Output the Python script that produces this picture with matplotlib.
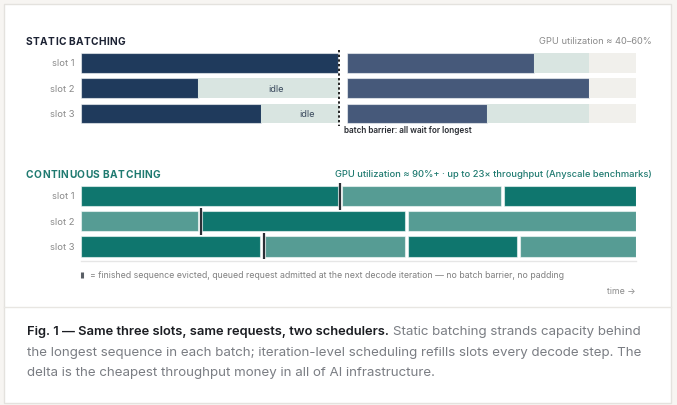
import matplotlib
matplotlib.use("Agg")
import matplotlib.pyplot as plt
from matplotlib.patches import Rectangle

plt.rcParams['font.family'] = ['Inter', 'DejaVu Sans']

W, H = 677, 406
# ---------------- data ----------------
slots = ["slot 1", "slot 2", "slot 3"]
# static batching, time units 0..100
batch1_done = [46.3, 21.1, 32.4]
barrier_t = 46.5
batch2_start = 47.9
batch2_done = [81.6, 91.5, 73.2]
batch2_end = 91.5
timeline_end = 100.0
# continuous batching segments per slot (kind 0 = dark, 1 = light)
cont_starts = [[0, 47.0, 76.2], [0, 21.8, 59.0], [0, 33.1, 59.0, 79.1]]
cont_ends = [[46.3, 75.7, 100], [21.1, 58.4, 100], [32.3, 58.4, 78.6, 100]]
cont_kinds = [[0, 1, 0], [1, 0, 1], [0, 1, 0, 1]]
evict_t = [46.7, 21.6, 33.0]

# ---------------- colours ----------------
c_static = '#1f3a5c'
c_static2 = '#46597a'
c_idle = '#d9e5e1'
c_empty = '#f1f0ec'
c_teal = '#0f766e'
c_teal_l = '#569c94'
c_mark = '#2b2f36'
c_grey = '#8a8a8a'

fig = plt.figure(figsize=(W / 100, H / 100), dpi=100)
fig.patch.set_facecolor('#f7f5f2')

def fx(px):
    return px / W

def fy(py):
    return 1 - py / H

# card
card = fig.add_axes([0, 0, 1, 1])
card.set_xlim(0, W)
card.set_ylim(H, 0)
card.axis('off')
card.add_patch(Rectangle((3.5, 4.5), 667.5, 399, facecolor='white', edgecolor='#e4e2de', lw=1))
card.plot([3.5, 671], [308, 308], color='#e8e6e2', lw=1)

renderer = fig.canvas.get_renderer()

def spaced(x_px, y_px, s, target_w, **kw):
    ts = []
    widths = []
    for ch in s:
        t = fig.text(0, 0, ch if ch != ' ' else 'I', **kw)
        bb = t.get_window_extent(renderer)
        widths.append(bb.width * (0.8 if ch == ' ' else 1.0))
        ts.append((t, ch))
    nat = sum(widths)
    gap = (target_w - nat) / max(len(s) - 1, 1)
    x = x_px
    for (t, ch), w in zip(ts, widths):
        if ch == ' ':
            t.set_visible(False)
        t.set_position((fx(x), fy(y_px)))
        x += w + gap

def bar_axes(top_px, bottom_px):
    ax = fig.add_axes([fx(81), fy(bottom_px), (636 - 81) / W, (bottom_px - top_px) / H])
    ax.set_xlim(0, timeline_end)
    ax.set_ylim(2.5, -0.5)
    ax.axis('off')
    return ax

bh = 0.79
edge = dict(edgecolor=(1, 1, 1, 0.55), linewidth=0.8)

# ---------------- static batching ----------------
spaced(26, 42, "STATIC BATCHING", 99, fontsize=7.3, fontweight='bold', color='#1c2233', va='center', ha='left')
fig.text(fx(652), fy(42), "GPU utilization ≈ 40–60%", fontsize=6.7, color=c_grey, ha='right', va='center')

ax1 = bar_axes(51.4, 127.1)
for i in range(3):
    ax1.barh(i, batch1_done[i], left=0, height=bh, color=c_static, **edge)
    if barrier_t - batch1_done[i] > 2:
        ax1.barh(i, barrier_t - batch1_done[i], left=batch1_done[i], height=bh, color=c_idle, edgecolor='none')
        ax1.text((batch1_done[i] + barrier_t) / 2 + 1.3, i, "idle", fontsize=6.6, color='#3b4a5e',
                 ha='center', va='center')
    ax1.barh(i, batch2_done[i] - batch2_start, left=batch2_start, height=bh, color=c_static2, **edge)
    if batch2_done[i] < batch2_end:
        ax1.barh(i, batch2_end - batch2_done[i], left=batch2_done[i], height=bh, color=c_idle, edgecolor='none')
    ax1.barh(i, timeline_end - batch2_end, left=batch2_end, height=bh, color=c_empty, edgecolor='none')
ax1.plot([barrier_t, barrier_t], [-0.5, 2.5], color='#222222', lw=1.4, ls=(0, (1.2, 1.2)), clip_on=False)
ax1.text(barrier_t + 0.9, 2.62, "batch barrier: all wait for longest", fontsize=5.9, fontweight='semibold',
         color='#2a2d33', ha='left', va='center')
for i, s in enumerate(slots):
    fig.text(fx(74), fy(64 + 25.25 * i), s, fontsize=6.8, color=c_grey, ha='right', va='center')

# ---------------- continuous batching ----------------
spaced(26, 175, "CONTINUOUS BATCHING", 134, fontsize=7.3, fontweight='bold', color='#1f7a70', va='center', ha='left')
fig.text(fx(652), fy(175), "GPU utilization ≈ 90%+ · up to 23× throughput (Anyscale benchmarks)",
         fontsize=6.75, fontweight='medium', color='#1f7a70', ha='right', va='center')

ax2 = bar_axes(184.4, 260.1)
for i in range(3):
    for s0, s1, k in zip(cont_starts[i], cont_ends[i], cont_kinds[i]):
        ax2.barh(i, s1 - s0, left=s0, height=0.81, color=c_teal if k == 0 else c_teal_l, **edge)
    ax2.plot([evict_t[i], evict_t[i]], [i - 0.53, i + 0.56], color=c_mark, lw=1.6, solid_capstyle='butt')
ax2.plot([0, timeline_end], [2.58, 2.58], color='#e6e6e6', lw=1, clip_on=False)
for i, s in enumerate(slots):
    fig.text(fx(74), fy(197 + 25.25 * i), s, fontsize=6.8, color=c_grey, ha='right', va='center')

# legend line
card.plot([82, 82], [272.5, 279], color='#5a5f66', lw=2.2, solid_capstyle='butt')
fig.text(fx(90), fy(275.8),
         "= finished sequence evicted, queued request admitted at the next decode iteration — no batch barrier, no padding",
         fontsize=6.3, color='#808080', ha='left', va='center')
fig.text(fx(636), fy(291), "time →", fontsize=6.3, color=c_grey, ha='right', va='center')

# ---------------- caption ----------------
bold = fig.text(fx(27), fy(332), "Fig. 1 — Same three slots, same requests, two schedulers.", fontsize=9.3,
                fontweight='semibold', color='#1b1d22', ha='left', va='center')
bw = bold.get_window_extent(renderer).width
cap_fs = 9.6
fig.text(fx(27 + bw + 4), fy(332), "Static batching strands capacity behind", fontsize=cap_fs,
         color='#7a7d83', ha='left', va='center')
fig.text(fx(27), fy(353), "the longest sequence in each batch; iteration-level scheduling refills slots every decode step. The",
         fontsize=cap_fs, color='#7a7d83', ha='left', va='center')
fig.text(fx(27), fy(373.5), "delta is the cheapest throughput money in all of AI infrastructure.",
         fontsize=cap_fs, color='#7a7d83', ha='left', va='center')

fig.savefig("out.png", dpi=100, facecolor=fig.get_facecolor())
